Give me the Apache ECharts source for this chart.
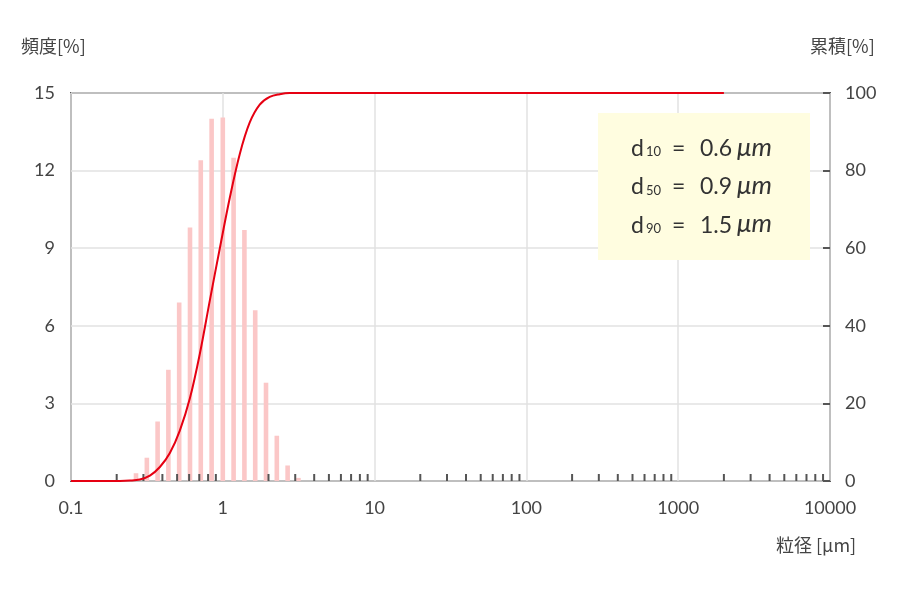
<!DOCTYPE html>
<html>
<head>
<meta charset="utf-8">
<script src="https://cdn.jsdelivr.net/npm/echarts@6/dist/echarts.min.js"></script>
<style>html,body{margin:0;padding:0;background:#fff}#c{width:900px;height:590px}</style>
</head>
<body>
<div id="c"></div>
<script>
// Particle sizes (μm) of histogram bins
var binSizes = [0.268, 0.316, 0.372, 0.438, 0.516, 0.608, 0.716, 0.844, 1.0, 1.178, 1.388, 1.635, 1.926, 2.269, 2.673, 3.149];
// Frequency [%]
var frequency = [0.3, 0.9, 2.3, 4.3, 6.9, 9.8, 12.4, 14.0, 14.05, 12.5, 9.7, 6.6, 3.8, 1.75, 0.6, 0.12];
// Cumulative curve: sizes (μm) and cumulative [%]
var cumSizes = [0.1, 0.21, 0.245, 0.284, 0.331, 0.385, 0.448, 0.521, 0.607, 0.706, 0.821, 0.956, 1.112, 1.294, 1.505, 1.751, 2.037, 2.371, 2.759, 3.2, 2000];
var cumValues = [0, 0, 0.1, 0.4, 1.4, 3.6, 7.2, 13.0, 21.3, 32.8, 46.5, 60.0, 73.0, 84.3, 92.4, 97.0, 99.0, 99.7, 100, 100, 100];
// Minor tick positions on the log axis
var minorTicks = [0.2, 0.3, 0.4, 0.5, 0.6, 0.7, 0.8, 0.9,
  2, 3, 4, 5, 6, 7, 8, 9,
  20, 30, 40, 50, 60, 70, 80, 90,
  200, 300, 400, 500, 600, 700, 800, 900,
  2000, 3000, 4000, 5000, 6000, 7000, 8000, 9000];
var leftTicks = [0, 3, 6, 9, 12, 15];
var rightTicks = [0, 20, 40, 60, 80, 100];
// Info box: subscripts and values
var infoLabels = ['10', '50', '90'];
var infoValues = ['0.6', '0.9', '1.5'];

var FONT = 'Lato, "Noto Sans CJK JP", sans-serif';
var JP = '"Noto Sans CJK JP", sans-serif';
var chart = echarts.init(document.getElementById('c'));

var barData = binSizes.map(function (s, i) { return [s, frequency[i]]; });
var cumData = cumSizes.map(function (s, i) { return [s, cumValues[i]]; });

var graphics = [
  { type: 'rect', z: 10, shape: { x: 598, y: 113, width: 212, height: 147 }, style: { fill: '#fffde0' } },
  { type: 'text', z: 11, left: 21, top: 37, style: { text: '頻度[%]', fontSize: 18, fill: '#444', fontFamily: JP } },
  { type: 'text', z: 11, left: 810, top: 37, style: { text: '累積[%]', fontSize: 18, fill: '#444', fontFamily: JP } },
  { type: 'text', z: 11, left: 776, top: 536, style: { text: '粒径 [μm]', fontSize: 18, fill: '#444', fontFamily: JP } }
];
infoLabels.forEach(function (sub, i) {
  var base = 157 + i * 38.3; // text baseline
  var st = function (t, x, size, extra) {
    var s = { text: t, x: x, y: base - size * 0.87, fontSize: size, fill: '#333', fontFamily: FONT, verticalAlign: 'top' };
    for (var k in extra) s[k] = extra[k];
    return { type: 'text', z: 11, style: s };
  };
  graphics.push(st('d', 631, 23, {}));
  graphics.push(st(sub, 646, 13, {}));
  graphics.push(st('=', 672, 23, {}));
  graphics.push(st(infoValues[i], 700, 23, {}));
  graphics.push(st('μm', 772, 26, { fontStyle: 'italic', align: 'right' }));
});

chart.setOption({
  animation: false,
  grid: { left: 71, right: 70, top: 93, bottom: 109, show: true, borderColor: '#5a5a5a', borderWidth: 2, backgroundColor: 'transparent' },
  xAxis: {
    type: 'log', logBase: 10, min: 0.1, max: 10000, interval: 1,
    axisLine: { show: false },
    axisTick: { show: false },
    axisLabel: { fontSize: 18, color: '#444', fontFamily: FONT, margin: 18,
      formatter: function (v) { return String(+v.toPrecision(6)); } },
    splitLine: { show: true, lineStyle: { color: '#e2e2e2', width: 1.5 } }
  },
  yAxis: [{
    type: 'value', min: leftTicks[0], max: leftTicks[leftTicks.length - 1], interval: 3,
    axisLine: { show: false }, axisTick: { show: false },
    axisLabel: { fontSize: 18, color: '#444', fontFamily: FONT, margin: 16 },
    splitLine: { show: true, lineStyle: { color: '#e2e2e2', width: 1.5 } }
  }, {
    type: 'value', min: rightTicks[0], max: rightTicks[rightTicks.length - 1], interval: 20, position: 'right',
    axisLine: { show: false },
    axisTick: { show: true, inside: true, length: 7, lineStyle: { color: '#555', width: 2 } },
    axisLabel: { fontSize: 18, color: '#444', fontFamily: FONT, margin: 15 },
    splitLine: { show: false }
  }],
  series: [{
    type: 'custom', name: 'freq', yAxisIndex: 0, data: barData, z: 2,
    encode: { x: 0, y: 1 },
    renderItem: function (params, api) {
      var top = api.coord([api.value(0), api.value(1)]);
      var base = api.coord([api.value(0), 0]);
      return { type: 'rect', shape: { x: top[0] - 2.3, y: top[1], width: 4.6, height: base[1] - top[1] },
        style: { fill: '#fbc7c7' } };
    }
  }, {
    type: 'custom', name: 'minorTicks', yAxisIndex: 0, z: 3,
    data: minorTicks.map(function (v) { return [v, 0]; }),
    encode: { x: 0, y: 1 },
    renderItem: function (params, api) {
      var p = api.coord([api.value(0), 0]);
      return { type: 'line', shape: { x1: p[0], y1: p[1], x2: p[0], y2: p[1] - 7 },
        style: { stroke: '#555', lineWidth: 2 } };
    }
  }, {
    type: 'line', name: 'cum', yAxisIndex: 1, data: cumData, z: 4,
    showSymbol: false, smooth: 0.35,
    lineStyle: { color: '#e60012', width: 2 }
  }],
  graphic: graphics
});
</script>
</body>
</html>
